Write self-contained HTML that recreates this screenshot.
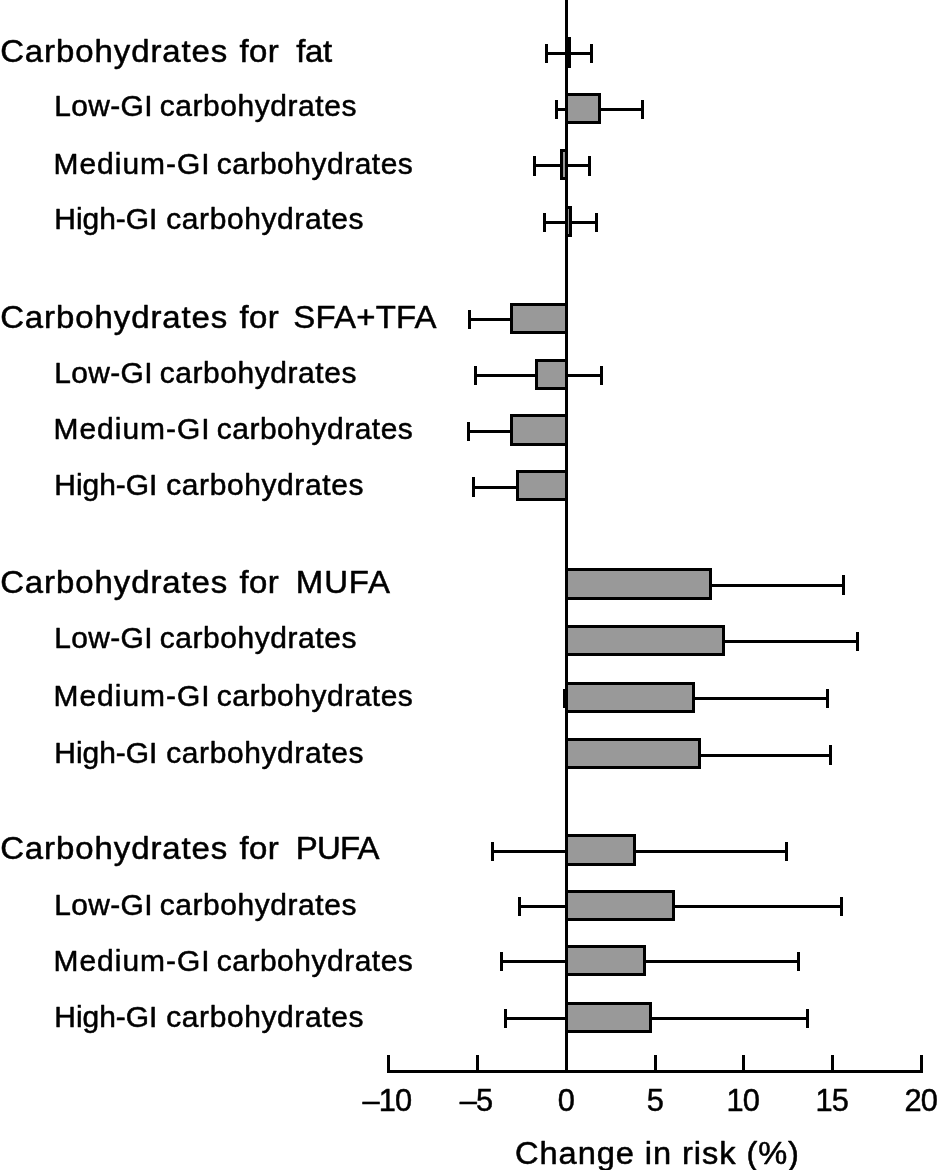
<!DOCTYPE html>
<html lang="en">
<head>
<meta charset="utf-8">
<title>Change in risk</title>
<style>
html,body{margin:0;padding:0;background:#fff;}
body{width:939px;height:1170px;overflow:hidden;}
svg{display:block;}
text{font-family:"Liberation Sans",Arial,Helvetica,sans-serif;fill:#000;stroke:#000;stroke-width:0.5px;stroke-linejoin:round;}
.h{font-size:31.4px;}
.s{font-size:28.8px;}
.t{font-size:30.8px;text-anchor:middle;}
.k{letter-spacing:-0.9px;}
.g{fill:#999;}
</style>
</head>
<body>
<svg width="939" height="1170" viewBox="0 0 939 1170">
<rect x="0" y="0" width="939" height="1170" fill="#fff"/>
<!-- row labels -->
<text class="h" y="61.8" transform="scale(1.05 1)"><tspan x="0.14" textLength="216.39" lengthAdjust="spacing">Carbohydrates</tspan> <tspan x="228.19" textLength="37.18" lengthAdjust="spacing">for</tspan> <tspan x="282.13" textLength="34.32" lengthAdjust="spacing">fat</tspan></text>
<text class="s" y="116.3" transform="scale(1.04 1)"><tspan x="52.19" textLength="94.48" lengthAdjust="spacing">Low-GI</tspan> <tspan x="153.58" textLength="189.15" lengthAdjust="spacing">carbohydrates</tspan></text>
<text class="s" y="173.8" transform="scale(1.04 1)"><tspan x="51.5" textLength="149.98" lengthAdjust="spacing">Medium-GI</tspan> <tspan x="208.38" textLength="188.6" lengthAdjust="spacing">carbohydrates</tspan></text>
<text class="s" y="229.3" transform="scale(1.04 1)"><tspan x="52.19" textLength="99.21" lengthAdjust="spacing">High-GI</tspan> <tspan x="159.83" textLength="189.63" lengthAdjust="spacing">carbohydrates</tspan></text>
<text class="h" y="328.1" transform="scale(1.05 1)"><tspan x="0.14" textLength="216.39" lengthAdjust="spacing">Carbohydrates</tspan> <tspan x="228.19" textLength="37.18" lengthAdjust="spacing">for</tspan> <tspan x="279.39" textLength="136.38" lengthAdjust="spacing">SFA+TFA</tspan></text>
<text class="s" y="382.7" transform="scale(1.04 1)"><tspan x="52.19" textLength="94.48" lengthAdjust="spacing">Low-GI</tspan> <tspan x="153.58" textLength="189.15" lengthAdjust="spacing">carbohydrates</tspan></text>
<text class="s" y="439.1" transform="scale(1.04 1)"><tspan x="51.5" textLength="149.98" lengthAdjust="spacing">Medium-GI</tspan> <tspan x="208.38" textLength="188.6" lengthAdjust="spacing">carbohydrates</tspan></text>
<text class="s" y="495" transform="scale(1.04 1)"><tspan x="52.19" textLength="99.21" lengthAdjust="spacing">High-GI</tspan> <tspan x="159.83" textLength="189.63" lengthAdjust="spacing">carbohydrates</tspan></text>
<text class="h" y="593.1" transform="scale(1.05 1)"><tspan x="0.14" textLength="216.39" lengthAdjust="spacing">Carbohydrates</tspan> <tspan x="228.19" textLength="37.18" lengthAdjust="spacing">for</tspan> <tspan x="281.75" textLength="89.73" lengthAdjust="spacing">MUFA</tspan></text>
<text class="s" y="648.5" transform="scale(1.04 1)"><tspan x="52.19" textLength="94.48" lengthAdjust="spacing">Low-GI</tspan> <tspan x="153.58" textLength="189.15" lengthAdjust="spacing">carbohydrates</tspan></text>
<text class="s" y="705.8" transform="scale(1.04 1)"><tspan x="51.5" textLength="149.98" lengthAdjust="spacing">Medium-GI</tspan> <tspan x="208.38" textLength="188.6" lengthAdjust="spacing">carbohydrates</tspan></text>
<text class="s" y="763" transform="scale(1.04 1)"><tspan x="52.19" textLength="99.21" lengthAdjust="spacing">High-GI</tspan> <tspan x="159.83" textLength="189.63" lengthAdjust="spacing">carbohydrates</tspan></text>
<text class="h" y="859.3" transform="scale(1.05 1)"><tspan x="0.14" textLength="216.39" lengthAdjust="spacing">Carbohydrates</tspan> <tspan x="228.19" textLength="37.18" lengthAdjust="spacing">for</tspan> <tspan x="281.75" textLength="79.6" lengthAdjust="spacing">PUFA</tspan></text>
<text class="s" y="914.7" transform="scale(1.04 1)"><tspan x="52.19" textLength="94.48" lengthAdjust="spacing">Low-GI</tspan> <tspan x="153.58" textLength="189.15" lengthAdjust="spacing">carbohydrates</tspan></text>
<text class="s" y="970.8" transform="scale(1.04 1)"><tspan x="51.5" textLength="149.98" lengthAdjust="spacing">Medium-GI</tspan> <tspan x="208.38" textLength="188.6" lengthAdjust="spacing">carbohydrates</tspan></text>
<text class="s" y="1027.2" transform="scale(1.04 1)"><tspan x="52.19" textLength="99.21" lengthAdjust="spacing">High-GI</tspan> <tspan x="159.83" textLength="189.63" lengthAdjust="spacing">carbohydrates</tspan></text>
<g shape-rendering="crispEdges" fill="#000">
<!-- error bars -->
<rect x="545" y="52" width="48" height="3"/><rect x="545" y="44" width="3" height="19"/><rect x="590" y="44" width="3" height="19"/>
<rect x="555" y="108" width="89" height="3"/><rect x="555" y="100" width="3" height="19"/><rect x="641" y="100" width="3" height="19"/>
<rect x="533" y="164" width="58" height="3"/><rect x="533" y="156" width="3" height="20"/><rect x="588" y="156" width="3" height="20"/>
<rect x="543" y="221" width="55" height="3"/><rect x="543" y="213" width="3" height="19"/><rect x="595" y="213" width="3" height="19"/>
<rect x="468" y="318" width="100" height="3"/><rect x="468" y="310" width="3" height="19"/>
<rect x="474" y="374" width="129" height="3"/><rect x="474" y="366" width="3" height="19"/><rect x="600" y="366" width="3" height="19"/>
<rect x="467" y="430" width="101" height="3"/><rect x="467" y="422" width="3" height="19"/>
<rect x="472" y="486" width="96" height="3"/><rect x="472" y="477" width="3" height="20"/>
<rect x="565" y="584" width="280" height="3"/><rect x="842" y="575" width="3" height="20"/>
<rect x="565" y="640" width="294" height="3"/><rect x="856" y="632" width="3" height="19"/>
<rect x="563" y="697" width="266" height="3"/><rect x="563" y="689" width="3" height="19"/><rect x="826" y="689" width="3" height="19"/>
<rect x="565" y="754" width="267" height="3"/><rect x="829" y="745" width="3" height="20"/>
<rect x="491" y="850" width="297" height="3"/><rect x="491" y="842" width="3" height="19"/><rect x="785" y="842" width="3" height="19"/>
<rect x="518" y="905" width="325" height="3"/><rect x="518" y="897" width="3" height="19"/><rect x="840" y="897" width="3" height="19"/>
<rect x="500" y="960" width="300" height="3"/><rect x="500" y="952" width="3" height="19"/><rect x="797" y="952" width="3" height="19"/>
<rect x="504" y="1017" width="305" height="3"/><rect x="504" y="1009" width="3" height="19"/><rect x="806" y="1009" width="3" height="19"/>
<!-- bars -->
<rect x="565" y="37" width="6" height="31"/>
<rect x="565" y="93" width="36" height="31"/><rect class="g" x="568" y="96" width="30" height="25"/>
<rect x="560" y="149" width="8" height="31"/><rect class="g" x="563" y="152" width="2" height="25"/>
<rect x="565" y="206" width="7" height="31"/><rect class="g" x="568" y="209" width="1" height="25"/>
<rect x="510" y="303" width="58" height="31"/><rect class="g" x="513" y="306" width="52" height="25"/>
<rect x="535" y="359" width="33" height="31"/><rect class="g" x="538" y="362" width="27" height="25"/>
<rect x="510" y="414" width="58" height="32"/><rect class="g" x="513" y="417" width="52" height="26"/>
<rect x="516" y="470" width="52" height="31"/><rect class="g" x="519" y="473" width="46" height="25"/>
<rect x="565" y="568" width="147" height="32"/><rect class="g" x="568" y="571" width="141" height="26"/>
<rect x="565" y="625" width="160" height="31"/><rect class="g" x="568" y="628" width="154" height="25"/>
<rect x="565" y="682" width="130" height="31"/><rect class="g" x="568" y="685" width="124" height="25"/>
<rect x="565" y="738" width="136" height="31"/><rect class="g" x="568" y="741" width="130" height="25"/>
<rect x="565" y="834" width="71" height="32"/><rect class="g" x="568" y="837" width="65" height="26"/>
<rect x="565" y="890" width="110" height="31"/><rect class="g" x="568" y="893" width="104" height="25"/>
<rect x="565" y="945" width="81" height="31"/><rect class="g" x="568" y="948" width="75" height="25"/>
<rect x="565" y="1002" width="87" height="31"/><rect class="g" x="568" y="1005" width="81" height="25"/>
<!-- axes -->
<rect x="565" y="0" width="3" height="1073"/>
<rect x="387" y="1070" width="536" height="3"/>
<rect x="387" y="1055" width="3" height="15"/><rect x="476" y="1055" width="3" height="15"/><rect x="565" y="1055" width="3" height="15"/><rect x="654" y="1055" width="3" height="15"/><rect x="742" y="1055" width="3" height="15"/><rect x="831" y="1055" width="3" height="15"/><rect x="920" y="1055" width="3" height="15"/>
</g>
<!-- tick labels -->
<text class="t k" x="386.9" y="1110.6">–10</text>
<text class="t k" x="475.9" y="1110.6">–5</text>
<text class="t k" x="565.8" y="1110.6">0</text>
<text class="t k" x="654.8" y="1110.6">5</text>
<text class="t k" x="742.8" y="1110.6">10</text>
<text class="t k" x="831.8" y="1110.6">15</text>
<text class="t k" x="920.8" y="1110.6">20</text>
<text class="t" transform="translate(657 1164.3) scale(1.06 1)" textLength="267.92" lengthAdjust="spacing">Change in risk (%)</text>
</svg>
</body>
</html>
